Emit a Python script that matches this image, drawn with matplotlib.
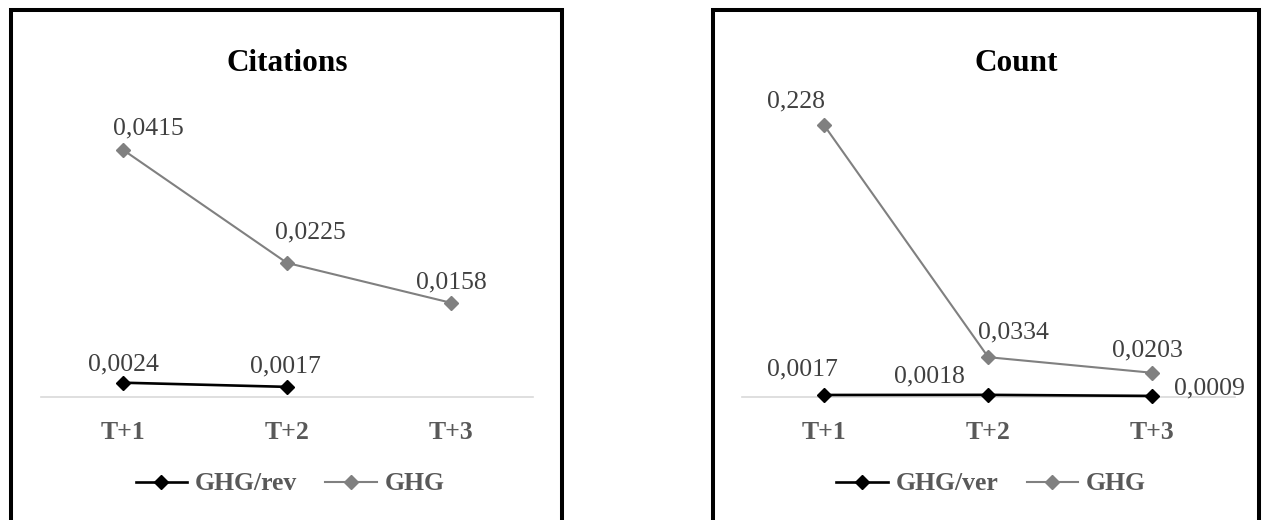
import numpy as np
import matplotlib.pyplot as plt
from matplotlib.patches import Rectangle

plt.rcParams['font.family'] = ['Liberation Serif', 'DejaVu Serif']

periods = ['T+1', 'T+2', 'T+3']

# Citations panel
cit_rev = [0.0024, 0.0017, np.nan]
cit_ghg = [0.0415, 0.0225, 0.0158]
# Count panel
cnt_ver = [0.0017, 0.0018, 0.0009]
cnt_ghg = [0.228, 0.0334, 0.0203]

# label offsets (pixels) as placed in the original
cit_rev_off = [(1, 18), (-2, 20), None]
cit_ghg_off = [(26, 21), (23, 30), (0, 20)]
cnt_ver_off = [(-22, 26), (-59, 18), (57, 7)]
cnt_ghg_off = [(-28, 24), (25, 25), (-5, 22)]

W, H = 1262, 520
fig = plt.figure(figsize=(W / 100, H / 100), dpi=100)

# panel borders
for x0, x1 in [(11, 562), (712.5, 1259)]:
    fig.patches.append(Rectangle((x0 / W, -0.1), (x1 - x0) / W, 1.1 - 10 / H,
                                 transform=fig.transFigure, fill=False,
                                 edgecolor='black', linewidth=2.9, clip_on=False))

lab_size = 18.5
gray = '#808080'


def draw(ax_left, ymax, s1, s2, off1, off2, name1, title, title_x, leg_x):
    ax = fig.add_axes([ax_left / W, (H - 397) / H, 492.5 / W, 298 / H])
    x = np.arange(len(periods))
    ax.plot(x, s1, color='black', lw=1.9, marker='D', ms=7.5, clip_on=False,
            label=name1, zorder=4)
    ax.plot(x, s2, color=gray, lw=1.5, marker='D', ms=7.5, clip_on=False,
            label='GHG', zorder=3)
    for vals, offs in [(s1, off1), (s2, off2)]:
        for xi, v, o in zip(x, vals, offs):
            if o is None or np.isnan(v):
                continue
            ax.annotate(str(v).replace('.', ','), (xi, v), xytext=o,
                        textcoords='offset pixels', ha='center', va='center',
                        fontsize=lab_size, color='#404040')
    ax.set_xlim(-0.5, 2.5)
    ax.set_ylim(0, ymax)
    for s in ['top', 'left', 'right']:
        ax.spines[s].set_visible(False)
    ax.spines['bottom'].set_color('#d9d9d9')
    ax.spines['bottom'].set_linewidth(1.2)
    ax.set_yticks([])
    ax.set_xticks(x, periods)
    ax.tick_params(axis='x', length=0, pad=17, labelsize=lab_size,
                   labelcolor='#595959')
    for t in ax.get_xticklabels():
        t.set_fontweight('bold')
    ax.set_facecolor('none')
    fig.text(title_x / W, 1 - 71 / H, title, ha='center', va='baseline',
             fontsize=22.5, fontweight='bold', color='black')
    ax.legend(loc='center', bbox_to_anchor=(leg_x / W, 1 - 484 / H),
              bbox_transform=fig.transFigure, ncol=2, frameon=False,
              prop={'weight': 'bold', 'size': lab_size}, labelcolor='#595959',
              handlelength=2.0, handletextpad=0.3, columnspacing=1.1)
    return ax


draw(40.7, 0.05, cit_rev, cit_ghg, cit_rev_off, cit_ghg_off, 'GHG/rev',
     'Citations', 287.5, 290)
draw(742, 0.25, cnt_ver, cnt_ghg, cnt_ver_off, cnt_ghg_off, 'GHG/ver',
     'Count', 1016, 991)

fig.savefig('out.png', dpi=100)
